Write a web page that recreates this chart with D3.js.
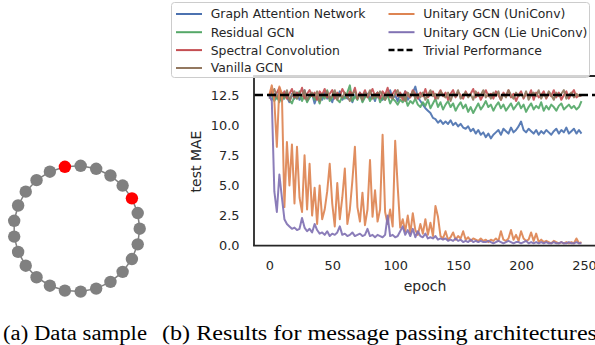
<!DOCTYPE html>
<html><head><meta charset="utf-8">
<script src="https://cdn.jsdelivr.net/npm/d3@7"></script>
<style>body{margin:0;background:#fff}svg{display:block}</style>
</head><body>
<svg id="c" width="595" height="345"></svg>
<script>
// ---------- data ----------
const epochs = d3.range(0, 250, 2); // sampled every 2 epochs
const seriesNames = ["Graph Attention Network","Residual GCN","Spectral Convolution","Vanilla GCN","Unitary GCN (UniConv)","Unitary GCN (Lie UniConv)"];
const seriesColors = ["#4C72B0","#55A868","#C44E52","#937860","#DD8452","#8172B3"];
const trivialLabel = "Trivial Performance";
const trivialValue = 12.5;
const xTicks = [0,50,100,150,200,250];
const yTicks = [0,2.5,5,7.5,10,12.5];

const gat = [
12.4,12.1,12.6,12.2,12.8,12.0,12.5,12.3,11.9,12.6,
12.2,12.7,12.1,12.4,12.9,12.0,12.3,12.6,11.8,12.4,
12.5,12.1,12.7,12.2,12.4,11.9,12.6,12.3,12.8,12.1,
12.4,12.2,12.6,11.9,12.5,12.3,12.7,12.0,12.4,12.6,
12.2,12.5,12.0,12.7,12.3,12.1,12.6,12.4,12.9,12.2,
12.5,12.0,12.6,12.3,12.8,12.1,12.4,12.7,13.2,12.3,
12.0,11.7,11.4,11.2,11.0,10.6,10.5,10.2,10.4,10.1,
10.3,10.1,10.4,10.0,10.2,9.9,10.1,9.8,9.7,9.9,
9.5,9.7,9.3,9.6,9.2,9.4,9.0,9.3,8.9,9.2,
9.4,9.6,9.2,9.7,9.5,9.3,9.8,9.4,9.6,9.9,
10.3,9.6,9.4,9.7,9.5,9.3,9.6,9.2,9.5,9.3,
9.6,9.4,9.2,9.5,9.7,9.3,9.6,9.4,9.8,9.3,
9.5,9.7,9.3,9.6,9.3];
const residual = [
12.3,12.6,12.0,12.4,11.9,12.5,12.2,12.7,12.1,11.8,
12.4,12.2,12.8,12.0,12.5,11.9,12.3,12.6,12.1,12.4,
11.8,12.5,12.2,12.9,12.0,12.3,12.6,12.1,11.9,12.4,
12.2,12.7,13.3,12.0,12.4,12.1,12.6,11.9,12.3,12.5,
12.0,12.4,12.2,12.7,11.9,12.3,12.1,12.5,11.8,12.2,
12.0,11.7,12.1,11.9,12.3,11.6,12.0,11.8,12.2,11.7,
11.5,11.9,11.6,12.1,11.4,11.8,12.2,11.5,11.9,11.3,
11.7,12.0,11.5,11.8,11.2,11.6,11.9,11.4,11.7,11.1,
11.5,11.0,11.4,11.8,11.3,11.6,12.0,11.5,11.7,11.2,
11.6,11.9,11.4,11.7,11.2,11.5,11.8,11.3,11.6,11.9,
11.4,11.7,11.1,11.5,11.8,11.3,11.6,11.4,11.9,11.2,
11.6,11.3,11.7,11.5,11.2,11.6,11.8,11.3,11.5,11.7,
11.4,11.6,11.3,11.5,12.0];
const spectral = [
12.5,12.9,12.3,12.7,13.1,12.4,12.8,12.2,12.6,13.0,
12.3,12.7,12.5,13.1,12.2,12.6,12.9,12.4,12.7,12.1,
12.8,12.5,13.0,12.3,12.6,12.9,12.2,12.7,12.4,13.0,
12.6,12.3,12.8,12.5,13.1,12.2,12.7,12.4,12.9,12.3,
12.6,13.0,12.4,12.7,12.2,12.8,12.5,13.1,12.3,12.6,
12.9,12.4,12.7,12.1,12.8,12.5,12.3,12.9,12.6,12.2,
12.7,12.4,13.0,12.3,12.6,12.8,12.2,12.5,12.9,12.4,
12.7,12.1,12.6,12.9,12.3,12.7,12.5,12.2,12.8,12.4,
12.6,13.0,12.3,12.7,12.1,12.5,12.9,12.4,12.6,12.2,
12.8,12.5,12.1,12.7,12.4,12.9,12.3,12.6,12.0,12.5,
12.8,12.2,12.6,12.4,12.9,12.1,12.7,12.3,12.5,12.8,
12.2,12.6,12.4,12.9,12.3,12.7,12.1,12.5,12.8,12.2,
12.6,12.9,12.3,12.5,12.4];
const vanilla = [
12.2,12.6,13.0,12.4,12.1,12.7,12.3,12.9,12.0,12.5,
12.8,12.2,12.6,12.4,12.9,12.1,12.5,12.7,12.3,12.8,
12.0,12.6,12.4,12.8,12.2,12.5,12.9,12.1,12.6,12.3,
12.7,12.4,12.0,12.6,12.8,12.3,12.5,12.1,12.7,12.4,
12.9,12.2,12.6,12.3,12.8,12.5,12.1,12.7,12.4,12.2,
12.6,12.9,12.3,12.5,12.0,12.7,12.4,12.8,12.2,12.6,
12.3,12.7,12.1,12.5,12.9,12.4,12.6,12.2,12.8,12.5,
12.3,12.7,12.0,12.6,12.4,12.9,12.2,12.5,12.7,12.3,
12.6,12.1,12.8,12.4,12.5,12.9,12.3,12.6,12.2,12.7,
12.4,12.8,12.1,12.6,12.3,12.9,12.5,12.2,12.7,12.4,
12.6,12.3,12.8,12.1,12.5,12.7,12.4,12.9,12.2,12.6,
12.3,12.8,12.5,12.1,12.7,12.4,12.6,12.9,12.2,12.5,
12.7,12.3,12.6,12.4,12.5];
const uniconv = [
12.5,13.3,12.0,8.2,13.2,12.6,3.2,8.6,5.0,8.4,
3.5,8.2,4.0,2.8,7.5,3.0,6.8,2.5,4.8,1.8,
5.0,2.2,3.0,4.5,6.8,3.5,1.6,5.2,2.2,4.0,
6.4,1.8,3.0,5.4,8.2,3.2,2.0,4.4,1.7,3.0,
7.1,2.4,4.6,2.0,3.0,9.2,2.8,1.8,3.0,1.6,
8.7,4.9,1.5,2.2,1.2,2.5,1.0,2.7,1.3,0.9,
1.8,1.0,2.2,0.9,1.9,0.8,3.3,2.4,0.8,0.6,
1.2,0.5,0.7,1.1,0.5,0.8,0.6,1.2,0.5,0.7,
0.4,0.6,0.5,0.4,0.6,0.4,0.5,0.3,0.5,0.4,
0.6,0.4,1.2,0.5,0.4,0.6,1.3,0.5,0.9,0.4,
1.2,0.6,0.4,0.5,1.1,0.4,1.0,0.3,0.5,0.3,
0.4,0.3,0.2,0.4,0.3,0.2,0.3,0.2,0.3,0.2,
0.3,0.2,0.6,0.2,0.3];
const lieUniconv = [
12.5,12.0,4.5,2.8,5.9,4.0,2.2,1.8,1.6,1.4,
1.5,1.3,1.4,2.3,1.5,1.2,1.4,1.1,1.8,1.3,
1.0,1.1,0.9,1.2,0.8,1.0,0.9,1.1,1.6,0.9,
1.0,0.8,0.9,1.1,0.8,0.9,1.0,0.8,0.9,1.4,
0.8,0.9,0.7,0.9,0.8,0.7,0.9,2.5,0.8,0.9,
0.7,0.8,1.2,1.6,0.9,1.3,0.8,1.4,0.7,1.2,
0.8,0.7,1.0,0.6,0.7,0.6,0.8,0.5,0.6,0.5,
0.6,0.4,0.5,0.4,0.6,0.4,0.5,0.3,0.4,0.3,
0.5,0.3,0.4,0.3,0.4,0.3,0.3,0.4,0.3,0.2,
0.3,0.4,0.3,0.2,0.3,0.4,0.3,0.2,0.3,0.3,
0.2,0.3,0.4,0.2,0.3,0.2,0.3,0.2,0.3,0.2,
0.3,0.2,0.2,0.3,0.2,0.2,0.3,0.2,0.2,0.3,
0.2,0.2,0.3,0.2,0.2];
const allSeries = [gat, residual, spectral, vanilla, uniconv, lieUniconv];

// ring graph sample
const nodeCount = 25;
const redNodes = [2, 7];
const captionA = "(a) Data sample";
const captionB = "(b) Results for message passing architectures";
const xLabel = "epoch";
const yLabel = "test MAE";

// ---------- drawing ----------
const svg = d3.select("#c");
const ink = "#262626";
const font = "DejaVu Sans, sans-serif";

// ring graph
const ringCx = 76.7, ringCy = 228.7, ringR = 63;
const ang = d3.scaleLinear().domain([0, nodeCount]).range([0, 2 * Math.PI]);
const nodes = d3.range(nodeCount).map(i => ({
  i, x: ringCx + ringR * Math.cos(ang(i)), y: ringCy - ringR * Math.sin(ang(i))
}));
const gRing = svg.append("g");
gRing.selectAll("line").data(nodes).join("line")
  .attr("x1", d => d.x).attr("y1", d => d.y)
  .attr("x2", d => nodes[(d.i + 1) % nodeCount].x).attr("y2", d => nodes[(d.i + 1) % nodeCount].y)
  .attr("stroke", "#808080").attr("stroke-width", 1.5);
gRing.selectAll("circle").data(nodes).join("circle")
  .attr("cx", d => d.x).attr("cy", d => d.y).attr("r", 6.2)
  .attr("fill", d => redNodes.includes(d.i) ? "#ff0000" : "#808080");

// chart
const x = d3.scaleLinear().domain([0, 250]).range([269.3, 584]);
const y = d3.scaleLinear().domain([0, 12.5]).range([245.7, 95]);
const pLeft = 254, pTop = 76, pRight = 598, pBottom = 245.7;

const clipId = "plotclip";
svg.append("clipPath").attr("id", clipId).append("rect")
  .attr("x", pLeft).attr("y", pTop).attr("width", pRight - pLeft).attr("height", pBottom - pTop);

const plot = svg.append("g").attr("clip-path", `url(#${clipId})`);
const line = d3.line().x((d, i) => x(epochs[i])).y(d => y(d));
allSeries.forEach((s, k) => {
  plot.append("path").datum(s).attr("d", line)
    .attr("fill", "none").attr("stroke", seriesColors[k]).attr("stroke-width", 2)
    .attr("stroke-linejoin", "round").attr("stroke-opacity", 0.92);
});
plot.append("line").attr("x1", pLeft).attr("x2", pRight)
  .attr("y1", y(trivialValue)).attr("y2", y(trivialValue))
  .attr("stroke", "#000").attr("stroke-width", 2.5).attr("stroke-dasharray", "9,4");

// spines
svg.append("line").attr("x1", pLeft).attr("x2", pLeft).attr("y1", pTop).attr("y2", pBottom)
  .attr("stroke", ink).attr("stroke-width", 1.8);
svg.append("line").attr("x1", pLeft - 0.9).attr("x2", pRight).attr("y1", pBottom).attr("y2", pBottom)
  .attr("stroke", ink).attr("stroke-width", 1.8);
svg.append("line").attr("x1", pLeft - 0.9).attr("x2", pRight).attr("y1", pTop).attr("y2", pTop)
  .attr("stroke", ink).attr("stroke-width", 1.8);

// axes
const xAxis = svg.append("g").attr("transform", `translate(0,${pBottom})`)
  .call(d3.axisBottom(x).tickValues(xTicks).tickFormat(d3.format("d")).tickSize(0).tickPadding(15.5));
const yAxis = svg.append("g").attr("transform", `translate(${pLeft},0)`)
  .call(d3.axisLeft(y).tickValues(yTicks).tickFormat(d3.format(".1f")).tickSize(0).tickPadding(14.5));
[xAxis, yAxis].forEach(a => {
  a.select(".domain").remove();
  a.selectAll("text").attr("fill", ink).style("font-family", font).style("font-size", "12.9px");
});

svg.append("text").text(xLabel).attr("x", 425).attr("y", 290.5).attr("text-anchor", "middle")
  .attr("fill", ink).style("font-family", font).style("font-size", "14px");
svg.append("text").text(yLabel).attr("transform", "translate(201,161.5) rotate(-90)")
  .attr("text-anchor", "middle").attr("fill", ink).style("font-family", font).style("font-size", "14px");

// legend
const lg = svg.append("g");
lg.append("rect").attr("x", 171.5).attr("y", 2.5).attr("width", 418).attr("height", 75).attr("rx", 3)
  .attr("fill", "#fff").attr("fill-opacity", 0.8).attr("stroke", "#cccccc").attr("stroke-width", 1);
const legendItems = seriesNames.map((n, k) => ({ name: n, color: seriesColors[k], dash: null }))
  .concat([{ name: trivialLabel, color: "#000", dash: "6,3" }]);
const rowY = [14, 32.2, 50.1, 68];
legendItems.forEach((it, k) => {
  const col = k < 4 ? 0 : 1;
  const row = k < 4 ? k : k - 4;
  const hx = col === 0 ? 176 : 388.5;
  const tx = col === 0 ? 210.7 : 423.3;
  const yy = rowY[row];
  lg.append("line").attr("x1", hx).attr("x2", hx + 26).attr("y1", yy).attr("y2", yy)
    .attr("stroke", it.color).attr("stroke-width", it.dash ? 2.5 : 2)
    .attr("stroke-dasharray", it.dash);
  lg.append("text").text(it.name).attr("x", tx).attr("y", yy).attr("dy", "0.36em")
    .attr("fill", ink).style("font-family", font).style("font-size", "12.4px");
});

// captions
const capFont = "Liberation Serif, Times New Roman, serif";
svg.append("text").text(captionA).attr("x", 3).attr("y", 339.5)
  .attr("textLength", 144).attr("lengthAdjust", "spacingAndGlyphs")
  .attr("fill", "#000").style("font-family", capFont).style("font-size", "20.5px");
svg.append("text").text(captionB).attr("x", 162).attr("y", 339.5)
  .attr("textLength", 435).attr("lengthAdjust", "spacingAndGlyphs")
  .attr("fill", "#000").style("font-family", capFont).style("font-size", "20.5px");
</script>
</body></html>
